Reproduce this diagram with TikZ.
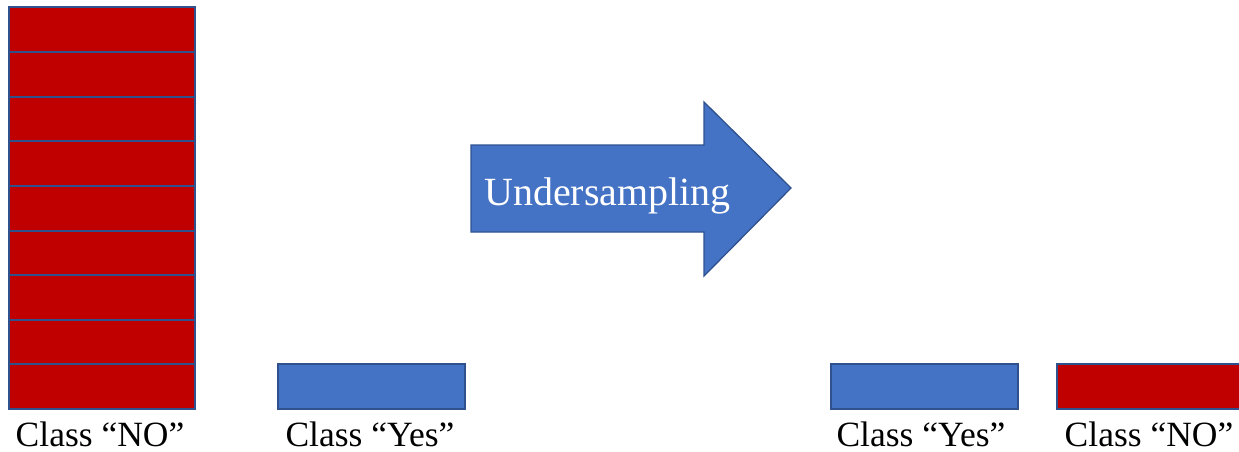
\documentclass[tikz,border=0pt]{standalone}
\usepackage{fontspec}
\setmainfont{Liberation Serif}
\definecolor{barred}{HTML}{C00000}
\definecolor{barblue}{HTML}{4472C4}
\definecolor{edgeblue}{HTML}{2F528F}
\begin{document}
\begin{tikzpicture}[x=1pt,y=-1pt,
  cell/.style={draw=edgeblue,line width=1.3pt,fill=barred},
  cellline/.style={draw=edgeblue,line width=1.5pt},
  yesbar/.style={draw=edgeblue,line width=1.3pt,fill=barblue},
  lbl/.style={font=\fontsize{35.5}{35.5}\selectfont,text=black,inner sep=0pt,anchor=base,text depth=0pt}]
\useasboundingbox (0,0) rectangle (1239,452);
% stack of NO cells
\draw[cell] (9,7) rectangle (195,409);
\foreach \y in {52,97,141,186,231,275,320,364}{
  \draw[cellline] (9,\y) -- (195,\y);
}
% left Yes bar
\draw[yesbar] (278,364) rectangle (465,409);
% right bars
\draw[yesbar] (831,364) rectangle (1018,409);
\draw[cell] (1057,364) rectangle (1244,409);
% labels
\node[lbl] (lNO) at (100,446.5) {Class “NO”};
\node[lbl] (lYes) at (370,446.5) {Class “Yes”};
\node[lbl] (rYes) at (921,446.5) {Class “Yes”};
\node[lbl] (rNO) at (1149,446.5) {Class “NO”};
% arrow
\draw[yesbar] (471,145) -- (704,145) -- (704,102) -- (791,188) -- (704,276) -- (704,232) -- (471,232) -- cycle;
\node[font=\fontsize{40}{40}\selectfont,text=white,inner sep=0pt,anchor=base] (arrowtxt) at (607.5,205) {Undersampling};
\end{tikzpicture}
\end{document}
